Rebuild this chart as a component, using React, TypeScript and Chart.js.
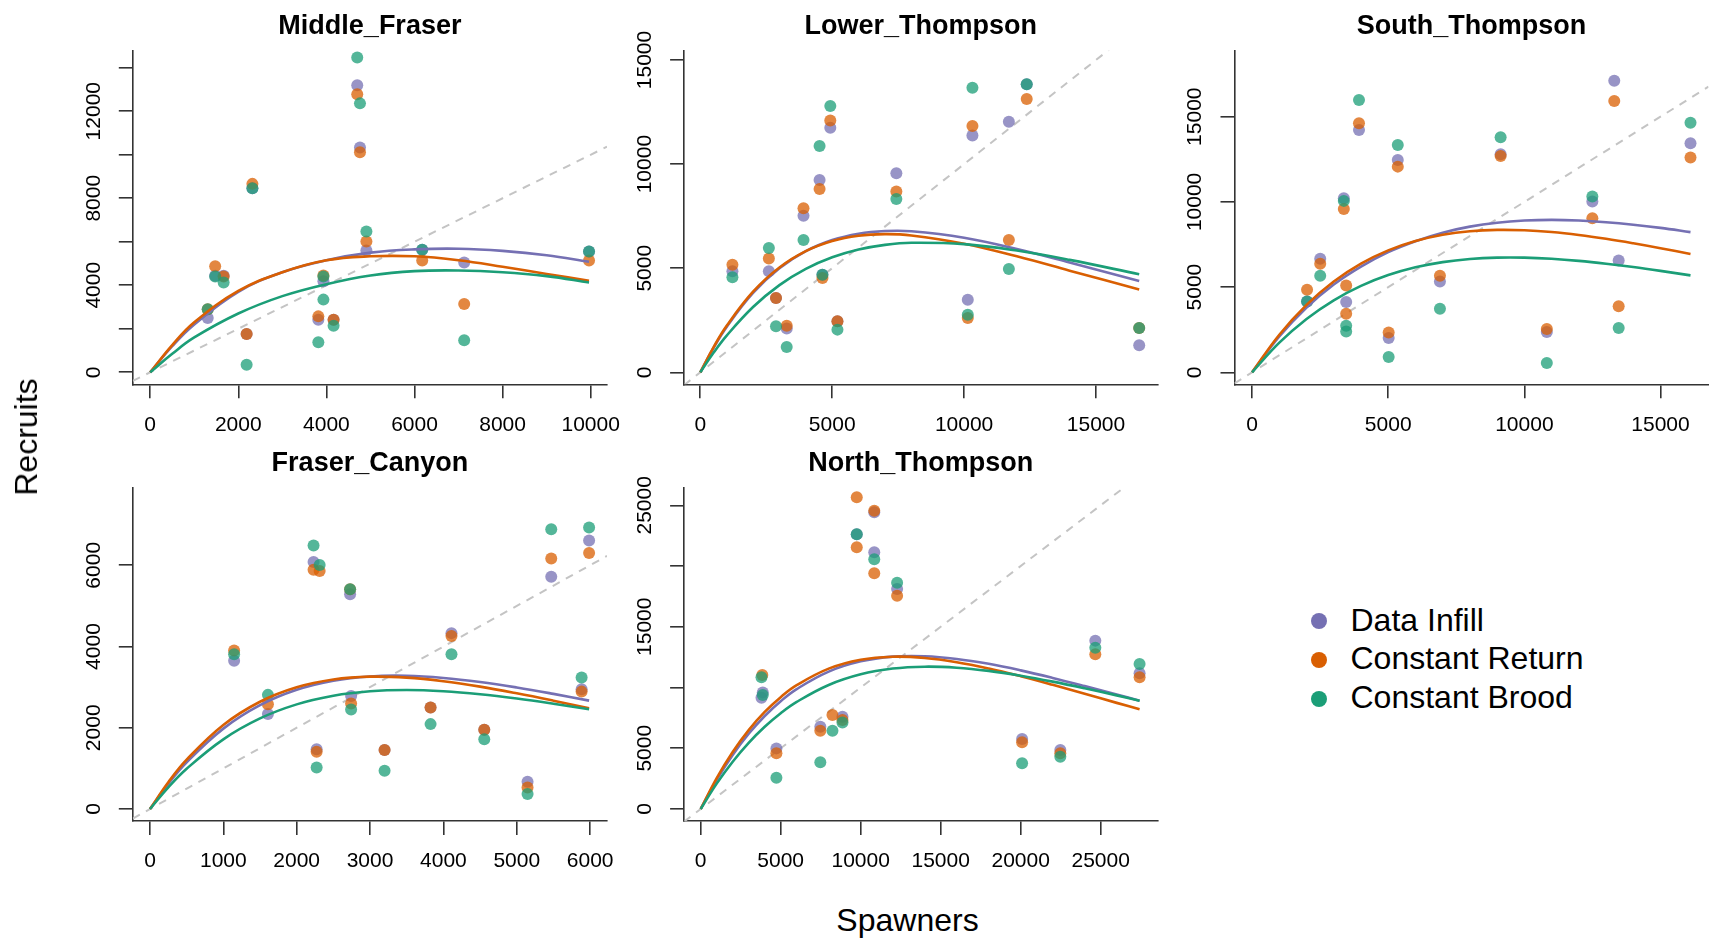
import React, { useEffect, useRef } from 'react';
import { Chart, registerables } from 'chart.js';

Chart.register(...registerables);

const FONT = '"Liberation Sans", Arial, Helvetica, sans-serif';
const SERIES = ['Data Infill', 'Constant Return', 'Constant Brood'];
const LINE_COLORS = ['#7570B3', '#D95F02', '#1B9E77'];
const POINT_COLORS = ['rgba(117,112,179,0.75)', 'rgba(217,95,2,0.75)', 'rgba(27,158,119,0.75)'];

type Pt = [number, number];

// ---------------- Middle_Fraser ----------------
const mfInfill: Pt[] = [[1306, 2490], [1475, 4440], [1667, 4440], [2189, 1760], [2320, 8460], [3817, 2420], [3932, 4180], [4163, 2420], [4700, 13190], [4762, 10330], [4908, 5600], [6175, 5630], [7128, 5050], [9962, 5550]];
const mfReturn: Pt[] = [[1306, 2900], [1475, 4870], [1667, 4400], [2189, 1760], [2320, 8660], [3817, 2570], [3932, 4450], [4163, 2420], [4700, 12780], [4762, 10110], [4908, 6010], [6175, 5140], [7128, 3140], [9962, 5140]];
const mfBrood: Pt[] = [[1306, 2900], [1475, 4400], [1667, 4130], [2189, 350], [2320, 8460], [3817, 1380], [3932, 4400], [3932, 3340], [4163, 2140], [4700, 14470], [4762, 12360], [4908, 6470], [6175, 5630], [7128, 1470], [9962, 5550]];
const mfCurveS = [0, 500, 1000, 2000, 3000, 4000, 5000, 6000, 7000, 8000, 9000, 9962];
const mfCurveInfill = [0, 1200, 2200, 3700, 4600, 5150, 5500, 5650, 5680, 5580, 5380, 5080];
const mfCurveReturn = [0, 1250, 2300, 3740, 4600, 5150, 5330, 5330, 5150, 4850, 4520, 4210];
const mfCurveBrood = [0, 850, 1600, 2700, 3500, 4050, 4450, 4650, 4680, 4600, 4420, 4130];
const mfXTicks = [0, 2000, 4000, 6000, 8000, 10000];
const mfXLabels = ['0', '2000', '4000', '6000', '8000', '10000'];
const mfYTicks = [0, 2000, 4000, 6000, 8000, 10000, 12000, 14000];
const mfYLabels = ['0', '', '4000', '', '8000', '', '12000', ''];

// ---------------- Lower_Thompson ----------------
const ltInfill: Pt[] = [[1218, 4850], [2599, 4850], [2870, 3570], [3276, 2100], [3912, 7520], [4522, 9240], [4630, 4690], [4928, 11750], [5199, 2450], [7432, 9560], [10140, 3490], [10316, 11370], [11697, 12040], [12374, 13830], [16638, 1300]];
const ltReturn: Pt[] = [[1218, 5170], [2599, 5470], [2870, 3570], [3276, 2240], [3912, 7880], [4522, 8810], [4630, 4530], [4928, 12090], [5199, 2450], [7432, 8680], [10140, 2610], [10316, 11830], [11697, 6360], [12374, 13130], [16638, 2130]];
const ltBrood: Pt[] = [[1218, 4570], [2599, 5970], [2870, 2210], [3276, 1220], [3912, 6360], [4522, 10870], [4630, 4690], [4928, 12790], [5199, 2050], [7432, 8320], [10140, 2770], [10316, 13670], [11697, 4960], [12374, 13830], [16638, 2130]];
const ltCurveS = [0, 500, 1000, 2000, 3000, 4000, 5000, 6000, 7000, 8000, 10000, 12000, 14000, 16638];
const ltCurveInfill = [0, 1167, 2181, 3811, 4994, 5817, 6352, 6659, 6787, 6776, 6465, 5921, 5272, 4380];
const ltCurveReturn = [0, 1200, 2234, 3873, 5036, 5821, 6307, 6562, 6636, 6575, 6177, 5569, 4882, 3975];
const ltCurveBrood = [0, 934, 1763, 3136, 4186, 4965, 5522, 5896, 6120, 6222, 6155, 5848, 5400, 4710];
const ltXTicks = [0, 5000, 10000, 15000];
const ltXLabels = ['0', '5000', '10000', '15000'];
const ltYTicks = [0, 5000, 10000, 15000];
const ltYLabels = ['0', '5000', '10000', '15000'];

// ---------------- South_Thompson ----------------
const stInfill: Pt[] = [[2019, 4160], [2502, 6660], [3369, 10210], [3456, 4120], [3926, 14220], [5016, 2010], [5351, 12460], [6899, 5330], [9128, 12790], [10825, 2360], [12497, 10020], [13302, 17110], [13464, 6560], [16102, 13440]];
const stReturn: Pt[] = [[2019, 4840], [2502, 6370], [3369, 9590], [3456, 5100], [3456, 3440], [3926, 14610], [5016, 2340], [5351, 12070], [6899, 5660], [9128, 12700], [10825, 2540], [12497, 9040], [13302, 15920], [13464, 3870], [16102, 12600]];
const stBrood: Pt[] = [[2019, 4160], [2502, 5660], [3369, 10060], [3456, 2730], [3456, 2400], [3926, 15980], [5016, 900], [5351, 13340], [6899, 3730], [9128, 13790], [10825, 550], [12497, 10310], [13464, 2600], [16102, 14650]];
const stCurveS = [0, 1000, 2000, 3000, 4000, 5000, 6000, 7000, 8000, 9000, 10000, 11000, 12000, 13000, 14000, 15000, 16102];
const stCurveInfill = [0, 2100, 3800, 5150, 6200, 7050, 7690, 8192, 8548, 8779, 8905, 8945, 8907, 8809, 8662, 8474, 8228];
const stCurveReturn = [0, 2204, 3957, 5328, 6377, 7153, 7704, 8068, 8276, 8356, 8333, 8229, 8058, 7835, 7572, 7283, 6940];
const stCurveBrood = [0, 1740, 3132, 4227, 5072, 5704, 6160, 6466, 6649, 6730, 6730, 6661, 6538, 6373, 6176, 5953, 5689];
const stXTicks = [0, 5000, 10000, 15000];
const stXLabels = ['0', '5000', '10000', '15000'];
const stYTicks = [0, 5000, 10000, 15000];
const stYLabels = ['0', '5000', '10000', '15000'];

// ---------------- Fraser_Canyon ----------------
const fcInfill: Pt[] = [[1147, 3650], [1608, 2340], [2230, 6080], [2272, 1470], [2728, 5290], [2742, 2780], [3198, 1450], [3825, 2500], [4110, 4330], [4557, 1950], [5147, 670], [5470, 5720], [5884, 2950], [5986, 6610]];
const fcReturn: Pt[] = [[1147, 3900], [1608, 2580], [2230, 5890], [2313, 5860], [2272, 1410], [2728, 5410], [2742, 2600], [3198, 1450], [3825, 2500], [4110, 4260], [4557, 1950], [5147, 530], [5470, 6170], [5884, 2890], [5986, 6300]];
const fcBrood: Pt[] = [[1147, 3810], [1608, 2810], [2230, 6490], [2313, 6010], [2272, 1020], [2728, 5410], [2742, 2450], [3198, 940], [3825, 2090], [4110, 3810], [4557, 1720], [5147, 370], [5470, 6890], [5884, 3240], [5986, 6930]];
const fcCurveS = [0, 250, 500, 1000, 1500, 2000, 2500, 3000, 3500, 4000, 4500, 5000, 5500, 5986];
const fcCurveInfill = [0, 619, 1149, 1979, 2556, 2935, 3159, 3264, 3280, 3227, 3127, 2992, 2834, 2668];
const fcCurveReturn = [0, 659, 1215, 2069, 2641, 2998, 3189, 3258, 3235, 3146, 3013, 2849, 2667, 2479];
const fcCurveBrood = [0, 532, 991, 1716, 2230, 2576, 2789, 2899, 2929, 2899, 2825, 2719, 2591, 2454];
const fcXTicks = [0, 1000, 2000, 3000, 4000, 5000, 6000];
const fcXLabels = ['0', '1000', '2000', '3000', '4000', '5000', '6000'];
const fcYTicks = [0, 2000, 4000, 6000];
const fcYLabels = ['0', '2000', '4000', '6000'];

// ---------------- North_Thompson ----------------
const ntInfill: Pt[] = [[3800, 9150], [3880, 9600], [4732, 4990], [7477, 6780], [8861, 7600], [9754, 22610], [10848, 24420], [10848, 21130], [12276, 18110], [20088, 5760], [22476, 4860], [24664, 13860], [27431, 11170]];
const ntReturn: Pt[] = [[3850, 11030], [4732, 4580], [7477, 6450], [8236, 7740], [8861, 7330], [9754, 25660], [9754, 21540], [10848, 24560], [10848, 19400], [12276, 17560], [20088, 5490], [22476, 4580], [24664, 12730], [27431, 10840]];
const ntBrood: Pt[] = [[3800, 10840], [3880, 9380], [4732, 2580], [7477, 3840], [8236, 6450], [8861, 7130], [9754, 22610], [10848, 20550], [12276, 18630], [20088, 3760], [22476, 4310], [24664, 13280], [27431, 11940]];
const ntCurveS = [0, 1000, 2000, 3000, 4000, 5000, 6000, 8000, 10000, 12000, 14000, 16000, 18000, 20000, 22000, 24000, 26000, 27431];
const ntCurveInfill = [0, 2401, 4453, 6193, 7655, 8872, 9871, 11313, 12157, 12541, 12575, 12354, 11949, 11412, 10792, 10120, 9421, 8918];
const ntCurveReturn = [0, 2546, 4696, 6496, 7988, 9208, 10190, 11554, 12284, 12534, 12435, 12087, 11565, 10928, 10223, 9482, 8736, 8205];
const ntCurveBrood = [0, 2089, 3894, 5444, 6765, 7882, 8816, 10212, 11089, 11559, 11715, 11632, 11368, 10972, 10486, 9939, 9352, 8918];
const ntXTicks = [0, 5000, 10000, 15000, 20000, 25000];
const ntXLabels = ['0', '5000', '10000', '15000', '20000', '25000'];
const ntYTicks = [0, 5000, 10000, 15000, 20000, 25000];
const ntYLabels = ['0', '5000', '', '15000', '', '25000'];

interface PanelSpec {
  title: string;
  box: { left: number; top: number; right: number; bottom: number };
  xRange: [number, number];
  yRange: [number, number];
  xTicks: number[];
  xLabels: string[];
  yTicks: number[];
  yLabels: string[];
  points: Pt[][];
  curveS: number[];
  curves: number[][];
}

const PANELS: PanelSpec[] = [
  {
    title: 'Middle_Fraser',
    box: { left: 132.8, top: 50.7, right: 607, bottom: 384.3 },
    xRange: [-395, 10370], yRange: [-552, 14781],
    xTicks: mfXTicks, xLabels: mfXLabels, yTicks: mfYTicks, yLabels: mfYLabels,
    points: [mfInfill, mfReturn, mfBrood], curveS: mfCurveS, curves: [mfCurveInfill, mfCurveReturn, mfCurveBrood],
  },
  {
    title: 'Lower_Thompson',
    box: { left: 684.1, top: 50.7, right: 1157.3, bottom: 384.3 },
    xRange: [-614, 17324], yRange: [-576, 15447],
    xTicks: ltXTicks, xLabels: ltXLabels, yTicks: ltYTicks, yLabels: ltYLabels,
    points: [ltInfill, ltReturn, ltBrood], curveS: ltCurveS, curves: [ltCurveInfill, ltCurveReturn, ltCurveBrood],
  },
  {
    title: 'South_Thompson',
    box: { left: 1234.5, top: 50.7, right: 1708.5, bottom: 384.3 },
    xRange: [-646, 16763], yRange: [-704, 18873],
    xTicks: stXTicks, xLabels: stXLabels, yTicks: stYTicks, yLabels: stYLabels,
    points: [stInfill, stReturn, stBrood], curveS: stCurveS, curves: [stCurveInfill, stCurveReturn, stCurveBrood],
  },
  {
    title: 'Fraser_Canyon',
    box: { left: 132.8, top: 487.3, right: 607, bottom: 821 },
    xRange: [-234, 6230], yRange: [-295, 7920],
    xTicks: fcXTicks, xLabels: fcXLabels, yTicks: fcYTicks, yLabels: fcYLabels,
    points: [fcInfill, fcReturn, fcBrood], curveS: fcCurveS, curves: [fcCurveInfill, fcCurveReturn, fcCurveBrood],
  },
  {
    title: 'North_Thompson',
    box: { left: 684.1, top: 487.3, right: 1157.3, bottom: 821 },
    xRange: [-1037, 28538], yRange: [-988, 26482],
    xTicks: ntXTicks, xLabels: ntXLabels, yTicks: ntYTicks, yLabels: ntYLabels,
    points: [ntInfill, ntReturn, ntBrood], curveS: ntCurveS, curves: [ntCurveInfill, ntCurveReturn, ntCurveBrood],
  },
];

function Panel({ spec }: { spec: PanelSpec }) {
  const ref = useRef<HTMLCanvasElement>(null);
  const { left, top, right, bottom } = spec.box;
  const cl = Math.floor(left) - 120;
  const ct = Math.floor(top) - 50;
  const cr = Math.ceil(right) + 45;
  const cb = Math.ceil(bottom) + 70;
  const cw = cr - cl;
  const ch = cb - ct;

  useEffect(() => {
    if (!ref.current) return;
    const yW = left - cl;
    const xH = cb - bottom;
    const padTop = top - ct;
    const padRight = cr - right;
    const [xMin, xMax] = spec.xRange;
    const [yMin, yMax] = spec.yRange;

    const textPlugin = {
      id: 'panelText',
      afterDraw(chart: any) {
        const ctx = chart.ctx as CanvasRenderingContext2D;
        const a = chart.chartArea;
        const xs = chart.scales.x;
        const ys = chart.scales.y;
        ctx.save();
        ctx.fillStyle = '#000';
        ctx.textAlign = 'center';
        ctx.textBaseline = 'middle';
        ctx.font = `21px ${FONT}`;
        spec.xLabels.forEach((lab, i) => {
          if (lab) ctx.fillText(lab, xs.getPixelForValue(spec.xTicks[i]), a.bottom + 40.7);
        });
        spec.yLabels.forEach((lab, i) => {
          if (!lab) return;
          ctx.save();
          ctx.translate(a.left - 39, ys.getPixelForValue(spec.yTicks[i]));
          ctx.rotate(-Math.PI / 2);
          ctx.fillText(lab, 0, 0);
          ctx.restore();
        });
        ctx.font = `bold 27px ${FONT}`;
        ctx.fillText(spec.title, (a.left + a.right) / 2, a.top - 24);
        ctx.restore();
      },
    };

    const datasets: any[] = [];
    datasets.push({
      label: '1:1',
      data: [{ x: xMin, y: xMin }, { x: xMax, y: xMax }],
      showLine: true,
      borderColor: '#C4C4C4',
      borderWidth: 2,
      borderDash: [8, 7],
      pointRadius: 0,
      order: 10,
      clip: 0,
    });
    spec.points.forEach((pts, k) => {
      datasets.push({
        label: SERIES[k],
        data: pts.map(([x, y]) => ({ x, y })),
        showLine: false,
        pointRadius: 6,
        pointHoverRadius: 6,
        pointBackgroundColor: POINT_COLORS[k],
        pointBorderColor: 'rgba(0,0,0,0)',
        pointBorderWidth: 0,
        order: 7 - k,
      });
    });
    spec.curves.forEach((ys, k) => {
      datasets.push({
        label: SERIES[k] + ' fit',
        data: spec.curveS.map((x, i) => ({ x, y: ys[i] })),
        showLine: true,
        borderColor: LINE_COLORS[k],
        borderWidth: 2.6,
        pointRadius: 0,
        tension: 0.4,
        order: 3 - k,
      });
    });

    const axisCommon = {
      type: 'linear' as const,
      ticks: { display: false },
      grid: {
        display: true,
        drawOnChartArea: false,
        drawTicks: true,
        tickLength: 14,
        color: '#333',
        lineWidth: 1.6,
      },
      border: { display: true, color: '#333', width: 1.6 },
    };

    const chart = new Chart(ref.current, {
      type: 'scatter',
      data: { datasets },
      options: {
        animation: false,
        responsive: false,
        maintainAspectRatio: false,
        events: [],
        layout: { padding: { left: 0, top: padTop, right: padRight, bottom: 0 }, autoPadding: false },
        plugins: { legend: { display: false }, tooltip: { enabled: false }, title: { display: false } },
        scales: {
          x: {
            ...axisCommon,
            position: 'bottom',
            min: xMin,
            max: xMax,
            afterBuildTicks: (s: any) => { s.ticks = spec.xTicks.map((v) => ({ value: v })); },
            afterFit: (s: any) => { s.height = xH; },
          },
          y: {
            ...axisCommon,
            position: 'left',
            min: yMin,
            max: yMax,
            afterBuildTicks: (s: any) => { s.ticks = spec.yTicks.map((v) => ({ value: v })); },
            afterFit: (s: any) => { s.width = yW; },
          },
        },
      } as any,
      plugins: [textPlugin],
    });
    return () => chart.destroy();
  }, []);

  return (
    <canvas
      ref={ref}
      width={cw}
      height={ch}
      style={{ position: 'absolute', left: cl, top: ct, width: cw, height: ch }}
    />
  );
}

export default function App() {
  const legendRows = [621, 659.5, 698.5];
  return (
    <div
      style={{
        position: 'fixed',
        left: 0,
        top: 0,
        width: 1709,
        height: 938,
        background: '#fff',
        overflow: 'hidden',
        fontFamily: FONT,
      }}
    >
      {PANELS.map((p) => (
        <Panel key={p.title} spec={p} />
      ))}
      <div
        style={{
          position: 'absolute',
          left: 25.5,
          top: 436.5,
          transform: 'translate(-50%, -50%) rotate(-90deg)',
          fontSize: 32,
          lineHeight: '32px',
          whiteSpace: 'nowrap',
          color: '#000',
        }}
      >
        Recruits
      </div>
      <div
        style={{
          position: 'absolute',
          left: 907.5,
          top: 920,
          transform: 'translate(-50%, -50%)',
          fontSize: 32,
          lineHeight: '32px',
          whiteSpace: 'nowrap',
          color: '#000',
        }}
      >
        Spawners
      </div>
      {SERIES.map((name, k) => (
        <div key={name}>
          <div
            style={{
              position: 'absolute',
              left: 1319.3 - 8,
              top: legendRows[k] - 8,
              width: 16,
              height: 16,
              borderRadius: 8,
              background: LINE_COLORS[k],
            }}
          />
          <div
            style={{
              position: 'absolute',
              left: 1350.5,
              top: legendRows[k] - 1.5,
              transform: 'translateY(-50%)',
              fontSize: 32,
              lineHeight: '32px',
              whiteSpace: 'nowrap',
              color: '#000',
            }}
          >
            {name}
          </div>
        </div>
      ))}
    </div>
  );
}
